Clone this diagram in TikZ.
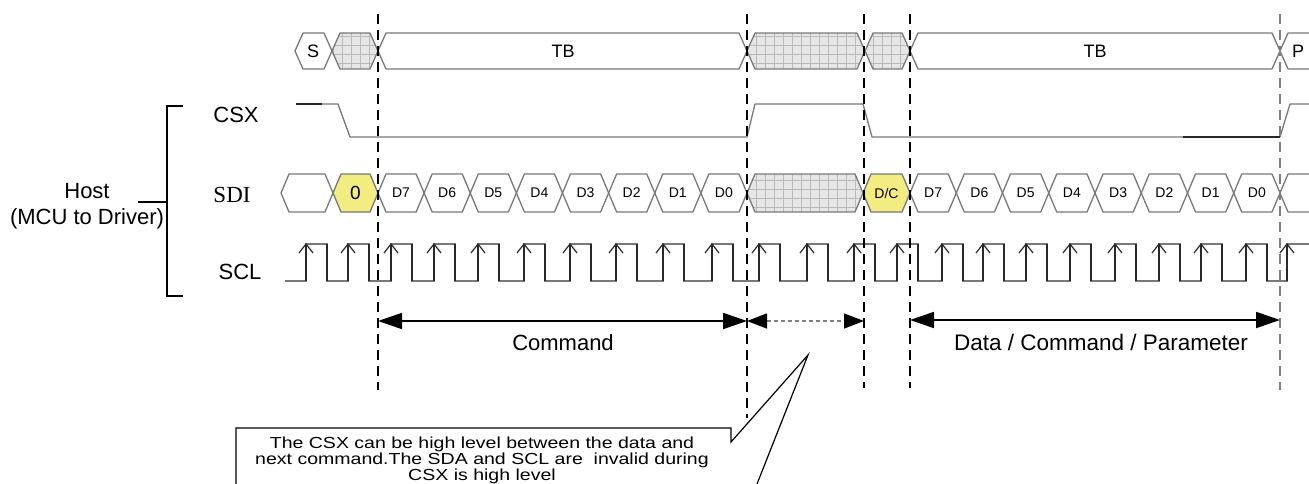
\documentclass[tikz,border=0pt]{standalone}
\usepackage{fontspec}
\setmainfont{Liberation Sans}
\newfontfamily\timesf{Liberation Serif}
\usetikzlibrary{arrows.meta}
\definecolor{wave}{RGB}{120,120,120}
\definecolor{darkw}{RGB}{40,40,40}
\definecolor{yel}{RGB}{243,236,128}
\definecolor{hatchfill}{RGB}{230,230,230}
\definecolor{hatchln}{RGB}{185,185,185}
\tikzset{
  busline/.style={draw=wave, line width=1.3pt, line join=round},
  vdash/.style={line width=2pt, dash pattern=on 10pt off 6pt},
  dimarrow/.style={line width=1.8pt, {Triangle[length=24pt,width=16pt]}-{Triangle[length=24pt,width=16pt]}},
  lbl/.style={inner sep=0pt, font=\fontsize{22}{25}\selectfont},
  buslbl/.style={inner sep=0pt, font=\fontsize{18}{20}\selectfont},
  bitlbl/.style={inner sep=0pt, font=\fontsize{14}{16}\selectfont},
}
\newcommand\hexcell[5][]{\draw[busline,#1] (#2,#4) -- ({#2+8},{#4-#5}) -- ({#3-8},{#4-#5}) -- (#3,#4) -- ({#3-8},{#4+#5}) -- ({#2+8},{#4+#5}) -- cycle;}
\newcommand\hatchcell[4]{%
  \begin{scope}
    \clip (#1,#3) -- ({#1+8},{#3-#4}) -- ({#2-8},{#3-#4}) -- (#2,#3) -- ({#2-8},{#3+#4}) -- ({#1+8},{#3+#4}) -- cycle;
    \fill[hatchfill] (#1,{#3-#4}) rectangle (#2,{#3+#4});
    \draw[hatchln, line width=0.6pt, step=9pt] (#1,{#3-#4}) grid (#2,{#3+#4});
  \end{scope}
  \hexcell{#1}{#2}{#3}{#4}}
\begin{document}
\begin{tikzpicture}[x=1pt,y=-1pt]
\clip (0,0) rectangle (1309,484);
\fill[white] (0,0) rectangle (1309,484);

% ---- top bus ----
\hexcell{295}{332}{51}{18}
\node[buslbl] (s) at (313,51) {S};
\hatchcell{332}{378}{51}{18}
\hexcell{378}{747}{51}{18}
\node[buslbl] (tb1) at (563,51) {TB};
\hatchcell{747}{865}{51}{18}
\hatchcell{865}{910}{51}{18}
\hexcell{910}{1280}{51}{18}
\node[buslbl] (tb2) at (1095,51) {TB};
\hexcell{1280}{1345}{51}{18}
\node[buslbl] (p) at (1298,51) {P};

% ---- CSX ----
\draw[wave, line width=1.3pt, line join=round] (296,104) -- (338,104) -- (350,137) -- (747,137) -- (755,104) -- (863,104) -- (872,137) -- (1280,137) -- (1290,104) -- (1309,104);
\draw[darkw, line width=1.3pt] (296,104) -- (322,104);
\draw[darkw, line width=1.3pt] (1183,137) -- (1280,137);

% ---- SDI ----
\hexcell{281}{333}{193}{19}
\hexcell[fill=yel]{333}{378}{193}{19}
\node[inner sep=0pt, font=\fontsize{19}{20}\selectfont] (b0) at (355.5,193) {0};
\foreach \i/\t in {0/D7,1/D6,2/D5,3/D4,4/D3,5/D2,6/D1,7/D0}{
  \pgfmathsetmacro\xa{378+46.125*\i}
  \pgfmathsetmacro\xb{378+46.125*(\i+1)}
  \pgfmathsetmacro\xc{378+46.125*(\i+0.5)}
  \hexcell{\xa}{\xb}{193}{19}
  \node[bitlbl] (ca\i) at (\xc,193) {\t};
}
\hatchcell{747}{863}{193}{19}
\hexcell[fill=yel]{863}{910}{193}{19}
\node[bitlbl] (dc) at (886.5,193) {D/C};
\foreach \i/\t in {0/D7,1/D6,2/D5,3/D4,4/D3,5/D2,6/D1,7/D0}{
  \pgfmathsetmacro\xa{910+46.25*\i}
  \pgfmathsetmacro\xb{910+46.25*(\i+1)}
  \pgfmathsetmacro\xc{910+46.25*(\i+0.5)}
  \hexcell{\xa}{\xb}{193}{19}
  \node[bitlbl] (cb\i) at (\xc,193) {\t};
}
\hexcell{1280}{1345}{193}{19}

% ---- SCL ----
\draw[wave, line width=1.3pt] (285,281)
  \foreach \r in {306,348,391,434,478,524,570,616,663,712,759,807,854,897,942,983,1026,1070,1115,1159,1201,1246}{
    -- (\r,281) -- (\r,244) -- ({\r+21},244) -- ({\r+21},281)}
  -- (1287,281) -- (1287,244) -- (1309,244);
\foreach \r in {306,348,391,434,478,524,570,616,663,712,759,807,854,897,942,983,1026,1070,1115,1159,1201,1246}{
  \draw[darkw, line width=1.2pt] ({\r+21},244) -- ({\r+21},281);
}
\foreach \r in {306,348,391,434,478,524,570,616,663,712,759,807,854,897,942,983,1026,1070,1115,1159,1201,1246,1287}{
  \draw[darkw, line width=1.2pt] (\r,281) -- (\r,244);
  \draw[darkw, line width=1.2pt] ({\r-7},253) -- (\r,244) -- ({\r+7},253);
}

% ---- labels ----
\node[lbl] (csx) at (236,115) {CSX};
\node[inner sep=0pt, font=\timesf\fontsize{23}{26}\selectfont] (sdi) at (232,195) {SDI};
\node[lbl] (scl) at (240,272) {SCL};
\node[lbl, align=center, font=\fontsize{22}{26}\selectfont] (host) at (87,206) {Host\\(MCU to Driver)};
\coordinate (brt) at (183,106);
\coordinate (brb) at (183,296);
\coordinate (brm) at (167,202);
\draw[line width=1.6pt] (brt) -- (167,106) -- (167,296) -- (brb);
\draw[line width=1.6pt] (138,202) -- (brm);

% ---- dashed verticals ----
\foreach \n/\x/\yb in {1/378/390,2/747/418,3/864/388,4/910/388}{
  \coordinate (dt\n) at (\x,14);
  \coordinate (db\n) at (\x,\yb);
  \draw[vdash] (dt\n) -- (db\n);
}
\coordinate (dt5) at (1280,14);
\coordinate (db5) at (1280,390);
\draw[vdash, draw=gray] (dt5) -- (db5);

% ---- dimension arrows ----
\coordinate (a1) at (378,321);
\coordinate (a2) at (747,321);
\coordinate (a3) at (864,321);
\coordinate (a4) at (910,320);
\coordinate (a5) at (1280,320);
\draw[dimarrow] (a1) -- (a2);
\draw[line width=1.4pt, draw=gray, dash pattern=on 4pt off 3pt, {Triangle[length=20pt,width=15pt,color=black]}-{Triangle[length=20pt,width=15pt,color=black]}] (a2) -- (a3);
\draw[dimarrow] (a4) -- (a5);
\node[inner sep=0pt, font=\fontsize{22}{24}\selectfont] (cmd) at (563,343) {Command};
\node[inner sep=0pt, font=\fontsize{22.5}{24}\selectfont] (dcp) at (1101,342) {Data / Command / Parameter};

% ---- callout ----
\coordinate (tip) at (808,355);
\draw[line width=1.2pt, line join=miter] (236,500) -- (236,428) -- (731,428) -- (731,442) -- (tip) -- (757,484) -- (757,500);
\node[inner sep=0pt, align=center, xscale=1.22, font=\fontsize{16}{16}\selectfont] (note) at (482,460)
  {The CSX can be high level between the data and\\next command.The SDA and SCL are\ \ invalid during\\CSX is high level};
\end{tikzpicture}
\end{document}
